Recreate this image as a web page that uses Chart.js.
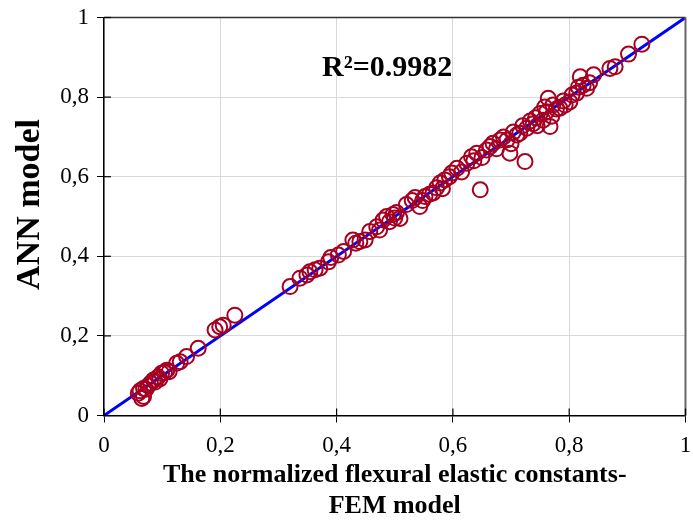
<!DOCTYPE html>
<html>
<head>
<meta charset="utf-8">
<script src="https://cdn.jsdelivr.net/npm/chart.js@4/dist/chart.umd.min.js"></script>
<style>
html,body{margin:0;padding:0;background:#fff;}
#wrap{width:693px;height:522px;position:relative;}
</style>
</head>
<body>
<div id="wrap"><canvas id="c" width="693" height="522"></canvas></div>
<script>
// FEM model values (x) and ANN model values (y)
const femValues = [
  0.059,0.065,0.068,0.062,0.068,0.072,0.076,0.080,0.085,0.088,0.093,0.096,0.099,0.104,0.108,0.112,
  0.125,0.131,0.142,0.162,0.191,0.199,0.205,0.225,
  0.320,0.337,0.349,0.354,0.363,0.371,0.386,0.390,0.403,0.412,0.428,0.433,0.440,0.449,0.457,0.469,
  0.474,0.480,0.486,0.491,0.497,0.500,0.503,0.509,0.520,0.530,0.535,0.543,0.548,0.552,0.560,0.566,
  0.572,0.578,0.582,0.586,0.594,0.598,0.607,0.615,0.624,0.632,0.636,0.641,0.647,0.650,0.658,0.664,
  0.669,0.675,0.681,0.687,0.693,0.698,0.700,0.704,0.710,0.715,0.720,0.724,0.727,0.733,0.738,0.742,
  0.745,0.750,0.755,0.758,0.761,0.764,0.767,0.770,0.772,0.778,0.784,0.790,0.793,0.801,0.805,0.813,
  0.816,0.819,0.824,0.830,0.835,0.842,0.870,0.879,0.902,0.925
];
const annValues = [
  0.056,0.043,0.048,0.062,0.068,0.066,0.075,0.081,0.089,0.084,0.097,0.092,0.106,0.108,0.114,0.110,
  0.131,0.135,0.148,0.169,0.215,0.223,0.227,0.252,
  0.324,0.345,0.353,0.361,0.366,0.370,0.386,0.397,0.403,0.412,0.441,0.433,0.437,0.441,0.462,0.474,
  0.466,0.491,0.500,0.487,0.505,0.496,0.510,0.495,0.530,0.540,0.548,0.525,0.540,0.550,0.556,0.559,
  0.572,0.584,0.570,0.592,0.600,0.609,0.621,0.612,0.634,0.650,0.640,0.659,0.567,0.648,0.667,0.676,
  0.684,0.670,0.692,0.700,0.692,0.659,0.683,0.712,0.705,0.709,0.728,0.638,0.722,0.740,0.733,0.748,
  0.728,0.759,0.742,0.775,0.763,0.797,0.726,0.752,0.780,0.770,0.772,0.790,0.780,0.788,0.805,0.810,
  0.825,0.851,0.830,0.822,0.836,0.856,0.872,0.876,0.908,0.933
];
const fitLineX = [0, 1];
const fitLineY = [0, 1];
const tickValues = [0, 0.2, 0.4, 0.6, 0.8, 1];
const tickLabels = ['0', '0,2', '0,4', '0,6', '0,8', '1'];
const xTitle = ['The normalized flexural elastic constants-', 'FEM model'];
const yTitle = 'ANN model';
const r2Text = 'R²=0.9982';
const r2Pos = [0.375, 0.873];

const serif = "'Liberation Serif', 'Times New Roman', serif";
const pts = femValues.map((v, i) => ({x: v, y: annValues[i]}));
const linePts = fitLineX.map((v, i) => ({x: v, y: fitLineY[i]}));

const tickLabel = v => {
  const i = tickValues.findIndex(t => Math.abs(t - v) < 1e-9);
  return i >= 0 ? tickLabels[i] : '';
};

const framePlugin = {
  id: 'frame',
  afterDatasetsDraw(chart) {
    const {ctx, chartArea: a, scales} = chart;
    ctx.save();
    ctx.strokeStyle = '#333';
    ctx.lineWidth = 1.5;
    ctx.beginPath();
    ctx.moveTo(a.left, a.top); ctx.lineTo(a.right, a.top);
    ctx.stroke();
    ctx.strokeStyle = '#666';
    ctx.lineWidth = 2;
    ctx.beginPath();
    ctx.moveTo(a.right, a.top); ctx.lineTo(a.right, a.bottom);
    ctx.stroke();
    ctx.strokeStyle = '#000';
    ctx.lineWidth = 1.2;
    tickValues.forEach(v => {
      const x = scales.x.getPixelForValue(v);
      ctx.beginPath(); ctx.moveTo(x, a.bottom); ctx.lineTo(x, a.bottom - 7); ctx.stroke();
      const y = scales.y.getPixelForValue(v);
      ctx.beginPath(); ctx.moveTo(a.left, y); ctx.lineTo(a.left + 7, y); ctx.stroke();
    });
    ctx.fillStyle = '#000';
    ctx.font = "bold 30px " + serif;
    ctx.textAlign = 'left';
    ctx.textBaseline = 'middle';
    ctx.fillText(r2Text, scales.x.getPixelForValue(r2Pos[0]), scales.y.getPixelForValue(r2Pos[1]));
    // y-axis title
    ctx.translate(30, (a.top + a.bottom) / 2 - 12);
    ctx.rotate(-Math.PI / 2);
    ctx.font = "bold 34px " + serif;
    ctx.textAlign = 'center';
    ctx.fillText(yTitle, 0, 0);
    ctx.restore();
  }
};

new Chart(document.getElementById('c'), {
  type: 'scatter',
  data: {
    datasets: [
      {
        type: 'scatter',
        data: pts,
        order: 0,
        pointStyle: 'circle',
        pointRadius: 7.5,
        pointHoverRadius: 7.5,
        borderColor: '#A50021',
        backgroundColor: 'rgba(0,0,0,0)',
        borderWidth: 2
      },
      {
        type: 'line',
        data: linePts,
        order: 1,
        borderColor: '#0000FF',
        borderWidth: 3,
        pointRadius: 0,
        fill: false
      }
    ]
  },
  options: {
    responsive: false,
    animation: false,
    events: [],
    layout: {autoPadding: false, padding: {top: 17.5, right: 7.5, left: 0, bottom: 0}},
    plugins: {legend: {display: false}, tooltip: {enabled: false}},
    scales: {
      x: {
        type: 'linear', min: 0, max: 1,
        afterBuildTicks: s => { s.ticks = tickValues.map(v => ({value: v})); },
        afterFit: s => { s.height = 106.5; s.paddingRight = 0; s.paddingLeft = 0; },
        ticks: {callback: tickLabel, color: '#000', font: {family: serif, size: 23}, padding: 10, maxRotation: 0},
        grid: {color: '#d9d9d9', lineWidth: 1, tickLength: 7, tickColor: '#000', drawOnChartArea: true},
        border: {color: '#000', width: 1.5},
        title: {display: true, text: xTitle, color: '#000', font: {family: serif, size: 26, weight: 'bold', lineHeight: 1.2}, padding: {top: 0, bottom: 0}}
      },
      y: {
        type: 'linear', min: 0, max: 1,
        afterBuildTicks: s => { s.ticks = tickValues.map(v => ({value: v})); },
        afterFit: s => { s.width = 104; },
        ticks: {callback: tickLabel, color: '#000', font: {family: serif, size: 23, lineHeight: 0.8}, padding: 8},
        grid: {color: '#d9d9d9', lineWidth: 1, tickLength: 7, tickColor: '#000'},
        border: {color: '#000', width: 1.5},
        title: {display: false}
      }
    }
  },
  plugins: [framePlugin]
});
</script>
</body>
</html>
